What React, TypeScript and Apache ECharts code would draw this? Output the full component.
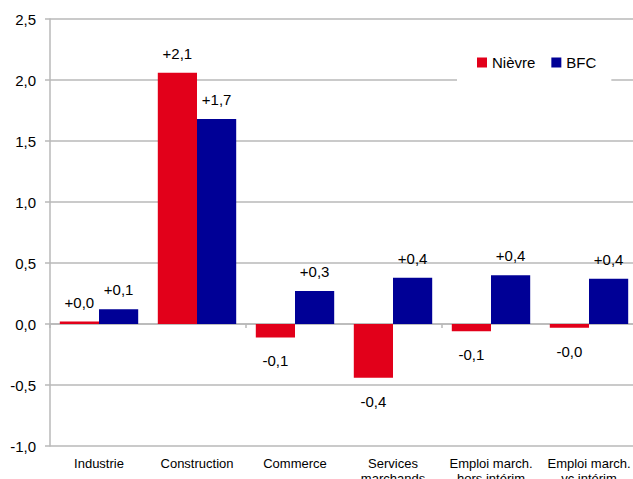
import React, { useEffect, useRef } from "react";
import * as echarts from "echarts";

const categories = [
  "Industrie",
  "Construction",
  "Commerce",
  "Services\nmarchands",
  "Emploi march.\nhors intérim",
  "Emploi march.\nvc intérim",
];
const nievre = [0.02, 2.06, -0.11, -0.44, -0.06, -0.03];
const bfc = [0.12, 1.68, 0.27, 0.38, 0.4, 0.37];
const seriesNames = ["Nièvre", "BFC"];
const colors = ["#e2001a", "#000096"];

const FONT = "'Liberation Sans', Arial, sans-serif";
const fmtSigned = (v: number) => {
  const s = v.toFixed(1).replace(".", ",");
  return v >= 0 ? "+" + s : s;
};

const buildData = (vals: number[]) =>
  vals.map((v) => ({
    value: v,
    label: {
      position: v >= 0 ? "top" : "bottom",
      distance: v >= 0 ? 12 : 16,
    },
  }));

export default function App() {
  const ref = useRef<HTMLDivElement>(null);
  useEffect(() => {
    if (!ref.current) return;
    const chart = echarts.init(ref.current, undefined, { renderer: "svg" });
    const gray = "#b8b8b8";
    chart.setOption({
      animation: false,
      backgroundColor: "#ffffff",
      textStyle: { fontFamily: FONT },
      grid: {
        left: 50,
        top: 19,
        width: 588,
        height: 427,
        containLabel: false,
        outerBoundsMode: "none",
      },
      legend: {
        data: seriesNames,
        left: 457,
        top: 45,
        padding: [10, 15, 16, 20],
        backgroundColor: "#ffffff",
        itemWidth: 10,
        itemHeight: 10,
        itemGap: 16,
        icon: "rect",
        textStyle: { fontSize: 15, color: "#000", fontFamily: FONT },
      },
      xAxis: [
        {
          type: "category",
          data: categories,
          position: "bottom",
          axisLine: { show: true, onZero: true, lineStyle: { color: gray, width: 1.5 } },
          axisTick: { show: true, length: 4, lineStyle: { color: gray, width: 1.5 } },
          axisLabel: { show: false },
          splitLine: { show: false },
        },
        {
          type: "category",
          data: categories,
          position: "bottom",
          axisLine: { show: false, onZero: false },
          axisTick: { show: false },
          splitLine: { show: false },
          axisLabel: {
            show: true,
            interval: 0,
            margin: 10,
            fontSize: 13,
            lineHeight: 15,
            color: "#000",
            fontFamily: FONT,
            verticalAlign: "top",
          },
        },
      ],
      yAxis: {
        type: "value",
        min: -1,
        max: 2.5,
        interval: 0.5,
        axisLine: { show: true, lineStyle: { color: gray, width: 1.5 } },
        axisTick: { show: true, length: 5, lineStyle: { color: gray, width: 1.5 } },
        splitLine: { show: true, lineStyle: { color: gray, width: 1.5 } },
        axisLabel: {
          margin: 14,
          fontSize: 15,
          color: "#000",
          fontFamily: FONT,
          formatter: (v: number) => v.toFixed(1).replace(".", ","),
        },
      },
      series: [
        {
          name: seriesNames[0],
          type: "bar",
          xAxisIndex: 0,
          data: buildData(nievre),
          itemStyle: { color: colors[0] },
          barGap: "0%",
          barCategoryGap: "20%",
          label: {
            show: true,
            fontSize: 15,
            color: "#000",
            fontFamily: FONT,
            formatter: (p: any) => fmtSigned(p.value),
          },
        },
        {
          name: seriesNames[1],
          type: "bar",
          xAxisIndex: 0,
          data: buildData(bfc),
          itemStyle: { color: colors[1] },
          barGap: "0%",
          barCategoryGap: "20%",
          label: {
            show: true,
            fontSize: 15,
            color: "#000",
            fontFamily: FONT,
            formatter: (p: any) => fmtSigned(p.value),
          },
        },
      ],
    });
    return () => chart.dispose();
  }, []);
  return (
    <div
      ref={ref}
      style={{ position: "fixed", left: 0, top: 0, width: 633, height: 479, overflow: "hidden" }}
    />
  );
}
